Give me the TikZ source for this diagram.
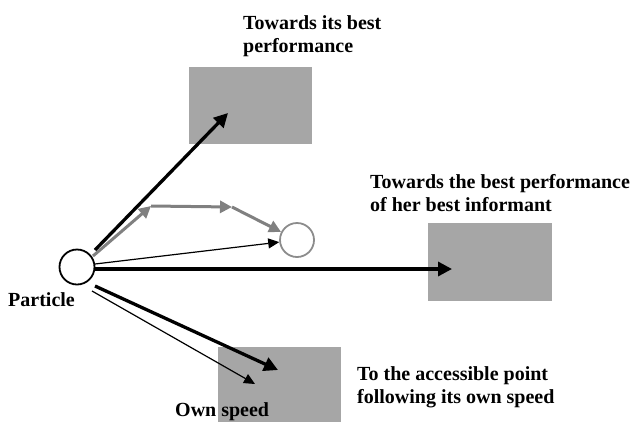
\documentclass[tikz,border=0pt]{standalone}
\usepackage{fontspec}
\setmainfont{Liberation Serif}
\usetikzlibrary{arrows.meta}
\definecolor{boxgray}{RGB}{166,166,166}
\definecolor{linegray}{RGB}{128,128,128}
\definecolor{circgray}{RGB}{140,140,140}
\tikzset{
  lbl/.style={font=\fontsize{20}{23}\selectfont\bfseries, inner sep=0pt, align=left, anchor=base west},
  target/.style={fill=boxgray, draw=none, inner sep=0pt},
  thickarr/.style={line width=3.3pt, -{Triangle[length=14pt,width=14pt]}},
  thinarr/.style={line width=1.2pt, -{Triangle[length=11pt,width=10pt]}},
  grayarr/.style={line width=3pt, draw=linegray, -{Triangle[length=12pt,width=12pt]}, linegray},
}
\begin{document}
\begin{tikzpicture}[x=1pt,y=-1pt]
\useasboundingbox (0,0) rectangle (631,421);
% target boxes
\node[target, minimum width=123pt, minimum height=77pt] (b1) at (250.5,105.5) {};
\node[target, minimum width=124pt, minimum height=78pt] (b2) at (490,262) {};
\node[target, minimum width=123pt, minimum height=75pt] (b3) at (279.5,384.5) {};
% circles
\node[circle, draw=black, line width=1.8pt, minimum size=35pt, inner sep=0pt] (p) at (77,267) {};
\node[circle, draw=circgray, line width=1.8pt, minimum size=34pt, inner sep=0pt] (q) at (297,240) {};
% coordinates
\coordinate (s1) at (95,250);
\coordinate (t1) at (228,113);
\coordinate (g0) at (93,256);
\coordinate (g1) at (151,206);
\coordinate (g2) at (232,207);
\coordinate (s2) at (95,269);
\coordinate (t2) at (452,269);
\coordinate (s3) at (95,286);
\coordinate (t3) at (278,370);
\coordinate (s4) at (92,291);
\coordinate (t4) at (255,384);
\coordinate (s5) at (95,264);
% arrows
\draw[thickarr] (s1) -- (t1);
\draw[grayarr] (g0) -- (g1);
\draw[grayarr] (g1) -- (g2);
\draw[grayarr] (g2) -- (q);
\draw[thinarr] (s5) -- (q);
\draw[thickarr] (s2) -- (t2);
\draw[thickarr] (s3) -- (t3);
\draw[thinarr] (s4) -- (t4);
% labels
\node[lbl] (l1) at (243,52) {Towards its best\\performance};
\node[lbl] (l2) at (370,211) {Towards the best performance\\of her best informant};
\node[lbl] (l3) at (357,403) {To the accessible point\\following its own speed};
\node[lbl] (l4) at (175,416) {Own speed};
\node[lbl] (l5) at (8,306) {Particle};
\end{tikzpicture}
\end{document}
